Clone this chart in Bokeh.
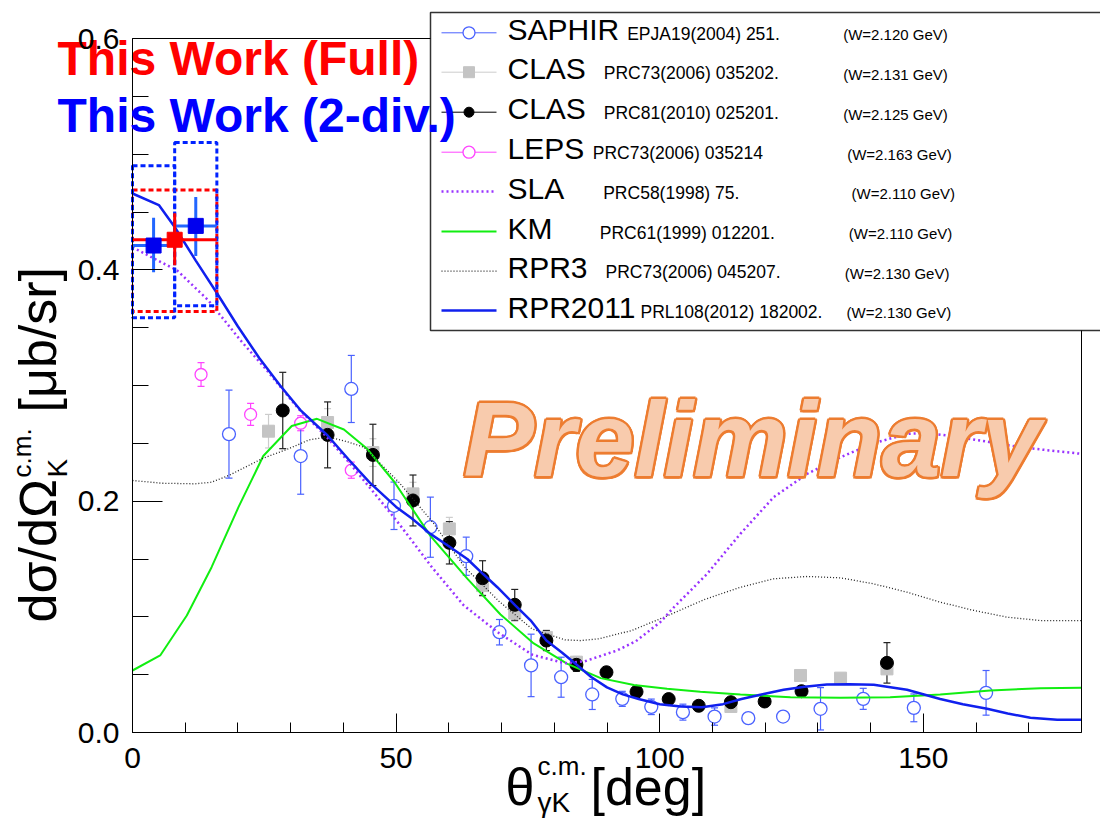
import numpy as np
from bokeh.plotting import figure
from bokeh.models import (ColumnDataSource, Whisker, TeeHead, Label,
                          FixedTicker, PrintfTickFormatter, Range1d, LinearAxis)
from bokeh.embed import file_html
from bokeh.resources import INLINE

# ---------------- data ----------------
saphir_x = [18.3, 31.9, 41.5, 49.6, 56.5, 63.3, 69.6, 75.6, 81.3, 87.2, 92.9, 98.4,
            104.4, 110.4, 116.8, 123.4, 130.5, 138.6, 148.2, 161.9]
saphir_y = [0.258, 0.239, 0.297, 0.196, 0.1775, 0.1524, 0.0867, 0.058, 0.0478, 0.0329,
            0.0291, 0.0222, 0.0176, 0.0138, 0.0124, 0.0138, 0.0205, 0.0291, 0.0213, 0.0343]
saphir_e = [0.038, 0.033, 0.029, 0.0205, 0.026, 0.0165, 0.011, 0.027, 0.0173, 0.013,
            0.0065, 0.0067, 0.0069, 0.0075, 0.004, 0.004, 0.0183, 0.0091, 0.012, 0.0193]

clas06_x = [25.8, 37.0, 45.6, 53.2, 60.1, 66.4, 72.5, 78.5, 84.2, 113.5, 126.7, 134.3, 143.1]
clas06_y = [0.2605, 0.268, 0.242, 0.2063, 0.176, 0.127, 0.1032, 0.0822, 0.0608, 0.0225,
            0.0493, 0.047, 0.055]
clas06_e = [0.0145, 0.012, 0.012, 0.010, 0.010, 0.008, 0.007, 0.006, 0.005, 0.003,
            0.003, 0.003, 0.004]

clas10_x = [28.5, 37.0, 45.6, 53.2, 60.1, 66.4, 72.5, 78.5, 84.2, 89.9, 95.6, 101.7,
            107.4, 113.5, 119.9, 126.9, 143.1]
clas10_y = [0.2784, 0.2573, 0.240, 0.2006, 0.164, 0.1334, 0.1104, 0.0795, 0.0585, 0.0521,
            0.0352, 0.0289, 0.0231, 0.0262, 0.0268, 0.0357, 0.0602]
clas10_e = [0.033, 0.0285, 0.0265, 0.022, 0.0183, 0.0151, 0.0133, 0.0087, 0.0057, 0.004,
            0.003, 0.003, 0.003, 0.003, 0.003, 0.003, 0.0175]

leps_x = [13.0, 22.4, 31.9, 41.5]
leps_y = [0.3095, 0.275, 0.2674, 0.2268]
leps_e = [0.0103, 0.0095, 0.0065, 0.007]

full_x = [8.0]
full_y = [0.426]
full_lo = [0.404]
full_hi = [0.449]
full_xlo = [0.0]
full_xhi = [16.0]
full_sys_lo = [0.364]
full_sys_hi = [0.469]

div_x = [4.0, 12.0]
div_y = [0.421, 0.438]
div_lo = [0.398, 0.412]
div_hi = [0.445, 0.463]
div_xlo = [0.0, 8.0]
div_xhi = [8.0, 16.0]
div_sys_lo = [0.3585, 0.369]
div_sys_hi = [0.490, 0.510]

rpr2011_x = [0, 5, 8, 12, 16, 20, 24, 28, 32, 37, 41, 45, 50, 53, 56.5, 60, 63.5, 66.5,
             69.2, 72.6, 75.5, 78.5, 81.5, 84.2, 87, 90, 93, 96, 100, 104, 108, 112, 115.5,
             119.5, 123.5, 127.5, 131.7, 136, 140.6, 146.9, 153.2, 157.5, 162.1, 166, 170.3,
             175.4, 180]
rpr2011_y = [0.466, 0.456, 0.437, 0.408, 0.380, 0.351, 0.324, 0.300, 0.278, 0.2568, 0.236,
             0.216, 0.195, 0.185, 0.1717, 0.161, 0.150, 0.137, 0.1256, 0.110, 0.097, 0.0795,
             0.069, 0.0588, 0.048, 0.039, 0.033, 0.029, 0.0245, 0.0225, 0.0218, 0.0245, 0.029,
             0.033, 0.0369, 0.0395, 0.0415, 0.0418, 0.0412, 0.0369, 0.029, 0.0245, 0.0205,
             0.0165, 0.0127, 0.011, 0.011]

sla_x = [0, 4, 8.5, 14.4, 20.5, 25.5, 31.5, 36.9, 41.3, 47, 50.8, 56.8, 62.8, 69.5, 75.8,
         82, 85.8, 91.9, 95.5, 100.1, 102.7, 109, 115.3, 121.6, 128, 134.3, 140.6, 146.9,
         150.5, 154.5, 160.8, 168.4, 180]
sla_y = [0.4195, 0.410, 0.3994, 0.3735, 0.339, 0.313, 0.2798, 0.2553, 0.2323, 0.2006, 0.179,
         0.1429, 0.110, 0.086, 0.0673, 0.0599, 0.0616, 0.0709, 0.079, 0.0954, 0.1083, 0.1372,
         0.1718, 0.2034, 0.2237, 0.238, 0.2501, 0.2582, 0.259, 0.2568, 0.2524, 0.2466, 0.2409]

km_x = [0, 5.25, 10.3, 15, 20.1, 24.8, 30.2, 35, 40.1, 44.5, 49.6, 56.5, 63.5, 69.8, 76.1,
        82.4, 88.8, 95.1, 101.4, 107.7, 115.3, 124.8, 134.3, 143.7, 153.2, 162.7, 172.2, 180]
km_y = [0.0536, 0.0666, 0.1011, 0.1429, 0.1948, 0.239, 0.265, 0.2712, 0.262, 0.2453, 0.217,
        0.170, 0.133, 0.102, 0.077, 0.0596, 0.047, 0.041, 0.0378, 0.0352, 0.0329, 0.0305,
        0.030, 0.0305, 0.0329, 0.0363, 0.0383, 0.0386]

rpr3_x = [0, 5.6, 11.9, 15, 18.4, 24.7, 29.6, 33.5, 36.3, 38.5, 40.7, 43.9, 45.8, 50.5, 57,
          63, 69.5, 75.8, 82, 85, 88.5, 94.7, 101, 108.5, 115.3, 121.6, 128, 134.3, 140.6,
          146.9, 153.2, 159.6, 165.9, 172.2, 180]
rpr3_y = [0.2179, 0.2155, 0.215, 0.2164, 0.2225, 0.237, 0.2453, 0.253, 0.255, 0.254, 0.2515,
          0.2466, 0.238, 0.2165, 0.1815, 0.143, 0.1135, 0.0895, 0.0801, 0.0795, 0.081, 0.0882,
          0.100, 0.115, 0.1256, 0.1329, 0.1349, 0.1337, 0.1285, 0.1213, 0.1127, 0.1055,
          0.0997, 0.0968, 0.0968]

X_MIN, X_MAX = 0, 180
Y_MIN, Y_MAX = 0.0, 0.6
x_ticks = [0, 50, 100, 150]
x_minor = list(range(0, 181, 10))
y_ticks = [0.0, 0.2, 0.4, 0.6]
y_minor = [round(0.05 * i, 2) for i in range(13)]

leg_names = ["SAPHIR", "CLAS", "CLAS", "LEPS", "SLA", "KM", "RPR3", "RPR2011"]
leg_refs = ["EPJA19(2004) 251.", "PRC73(2006) 035202.", "PRC81(2010) 025201.",
            "PRC73(2006) 035214", "PRC58(1998) 75.", "PRC61(1999) 012201.",
            "PRC73(2006) 045207.", "PRL108(2012) 182002."]
leg_w = ["(W=2.120 GeV)", "(W=2.131 GeV)", "(W=2.125 GeV)", "(W=2.163 GeV)",
         "(W=2.110 GeV)", "(W=2.110 GeV)", "(W=2.130 GeV)", "(W=2.130 GeV)"]

# ---------------- layout / styling ----------------
FONT = "Liberation Sans"
C_SAPHIR = "#4a62ff"
C_CLAS06 = "#c4c4c4"
C_CLAS10 = "#000000"
C_LEPS = "#ff44ff"
C_SLA = "#9933ff"
C_KM = "#11ee11"
C_RPR3 = "#222222"
C_RPR11 = "#1020ee"

CW, CH = 1100, 822                   # canvas
FL, FR, FT, FB = 132, 1081, 38, 732  # axis box in canvas pixels
XPP = (X_MAX - X_MIN) / (FR - FL)    # data per pixel
YPP = (Y_MAX - Y_MIN) / (FB - FT)
BASE_K = 0.37                        # baseline correction (fraction of font size)

# legend box (canvas pixels)
LEG_L, LEG_T, LEG_B, LEG_R = 430, 12, 330, 1140
LEG_ROWS = [32.3, 71.7, 111.7, 151.7, 191.0, 231.0, 270.7, 310.0]
LEG_LINE = (441, 496)
LEG_TEXT_X = 507

# the plotting frame covers the whole canvas so that texts and the legend
# can sit outside the axis box; the axes are pinned to the box.
p = figure(width=CW, height=CH,
           x_range=Range1d(X_MIN - FL * XPP, X_MIN + (CW - FL) * XPP),
           y_range=Range1d(Y_MIN - (CH - FB) * YPP, Y_MIN + FB * YPP),
           output_backend="svg", toolbar_location=None, title=None,
           min_border=0, min_border_left=0, min_border_right=0,
           min_border_top=0, min_border_bottom=0)
p.grid.visible = False
p.outline_line_color = None
p.background_fill_color = "white"
p.border_fill_color = "white"


def dx(px):
    return X_MIN + (px - FL) * XPP


def dy(py):
    return Y_MIN + (FB - py) * YPP


def text(t, px, py, fs, color="black", style="normal", angle=0.0, ox=0, oy=0, outline=None,
         level="overlay"):
    """px, py: start of the text on its baseline, in canvas pixels."""
    if angle == 0.0:
        ax_, ay_ = px, py - BASE_K * fs
    else:  # rotated 90 deg counter-clockwise
        ax_, ay_ = px - BASE_K * fs, py
    kw = dict(x=dx(ax_), y=dy(ay_), text=t, text_font=FONT, text_font_size=f"{fs}px",
              text_font_style=style, text_color=color, text_baseline="alphabetic",
              text_align="left", angle=angle, x_offset=ox, y_offset=oy, level=level)
    if outline is not None:
        kw["text_outline_color"] = outline
    p.add_layout(Label(**kw))


xa = p.xaxis[0]
ya = p.yaxis[0]
xa.fixed_location = Y_MIN
ya.fixed_location = X_MIN
xa.bounds = (X_MIN, X_MAX)
ya.bounds = (Y_MIN, Y_MAX)
xa.ticker = FixedTicker(ticks=x_ticks, minor_ticks=x_minor)
ya.ticker = FixedTicker(ticks=y_ticks, minor_ticks=y_minor)
ya.formatter = PrintfTickFormatter(format="%.1f")
for ax in (xa, ya):
    ax.axis_line_color = "black"
    ax.axis_line_width = 1
    ax.major_tick_line_color = "black"
    ax.minor_tick_line_color = "black"
    ax.major_tick_out = 0
    ax.minor_tick_out = 0
    ax.major_label_text_font = FONT
    ax.major_label_text_font_size = "30px"
    ax.major_label_text_color = "black"
xa.major_tick_in = 19
xa.minor_tick_in = 10
ya.major_tick_in = 30
ya.minor_tick_in = 16
xa.major_label_standoff = 15
ya.major_label_standoff = 13

# top and right sides of the axis box (the legend box hides the rest)
top_ax = LinearAxis(fixed_location=Y_MAX, bounds=(X_MIN, dx(LEG_L)),
                    ticker=FixedTicker(ticks=[], minor_ticks=[]),
                    axis_line_color="black", axis_line_width=1)
right_ax = LinearAxis(fixed_location=X_MAX, bounds=(Y_MIN, dy(LEG_B)),
                      ticker=FixedTicker(ticks=[], minor_ticks=[]),
                      axis_line_color="black", axis_line_width=1)
p.add_layout(top_ax, "above")
p.add_layout(right_ax, "right")


def whisk(x, lo, hi, color, width=1.2, size=7):
    src = ColumnDataSource(dict(x=x, lo=lo, hi=hi))
    w = Whisker(source=src, base="x", lower="lo", upper="hi", line_color=color,
                line_width=width,
                upper_head=TeeHead(size=size, line_color=color, line_width=width),
                lower_head=TeeHead(size=size, line_color=color, line_width=width))
    p.add_layout(w)


def lohi(y, e):
    return [a - b for a, b in zip(y, e)], [a + b for a, b in zip(y, e)]


# error bars (underlay)
lo, hi = lohi(clas06_y, clas06_e)
whisk(clas06_x, lo, hi, "#cccccc")
lo, hi = lohi(leps_y, leps_e)
whisk(leps_x, lo, hi, C_LEPS)
lo, hi = lohi(saphir_y, saphir_e)
whisk(saphir_x, lo, hi, C_SAPHIR)
lo, hi = lohi(clas10_y, clas10_e)
whisk(clas10_x, lo, hi, "#222222")

# markers
MK = {
    "saphir": dict(marker="circle", size=13, fill_color="white", line_color=C_SAPHIR,
                   line_width=1.3),
    "clas06": dict(marker="square", size=12, fill_color=C_CLAS06, line_color=C_CLAS06),
    "clas10": dict(marker="circle", size=13, fill_color=C_CLAS10, line_color=C_CLAS10),
    "leps": dict(marker="circle", size=12, fill_color="white", line_color=C_LEPS,
                 line_width=1.3),
}
p.scatter(clas06_x, clas06_y, **MK["clas06"])
p.scatter(leps_x, leps_y, **MK["leps"])
p.scatter(saphir_x, saphir_y, **MK["saphir"])
p.scatter(clas10_x, clas10_y, **MK["clas10"])

# curves
LS = {
    "km": dict(line_color=C_KM, line_width=2),
    "rpr3": dict(line_color=C_RPR3, line_width=1.3, line_dash="1 2"),
    "sla": dict(line_color=C_SLA, line_width=2.5, line_dash="2 3"),
    "rpr11": dict(line_color=C_RPR11, line_width=2.5),
}
p.line(km_x, km_y, **LS["km"])
p.line(rpr3_x, rpr3_y, **LS["rpr3"])
p.line(sla_x, sla_y, **LS["sla"])
p.line(rpr2011_x, rpr2011_y, **LS["rpr11"])

# This work: systematic boxes
p.quad(left=full_xlo, right=full_xhi, bottom=full_sys_lo, top=full_sys_hi,
       fill_alpha=0, line_color="#ff0000", line_width=3, line_dash="5 3")
p.quad(left=div_xlo, right=div_xhi, bottom=div_sys_lo, top=div_sys_hi,
       fill_alpha=0, line_color="#0022ff", line_width=3, line_dash="5 3")

# This work: error bars and points
p.segment(x0=div_xlo, y0=div_y, x1=div_xhi, y1=div_y, line_color="#2266ff", line_width=3)
p.segment(x0=div_x, y0=div_lo, x1=div_x, y1=div_hi, line_color="#2266ff", line_width=3)
p.segment(x0=full_xlo, y0=full_y, x1=full_xhi, y1=full_y, line_color="#ff0000", line_width=3)
p.segment(x0=full_x, y0=full_lo, x1=full_x, y1=full_hi, line_color="#ff0000", line_width=3)
p.scatter(div_x, div_y, marker="square", size=15, fill_color="#0000ee", line_color="#0000ee")
p.scatter(full_x, full_y, marker="square", size=15, fill_color="#ff0000", line_color="#ff0000")

# ---------------- legend (drawn by hand) ----------------
p.quad(left=[dx(LEG_L)], right=[dx(LEG_R)], top=[dy(LEG_T)], bottom=[dy(LEG_B)],
       fill_color="white", line_color="#333333", line_width=1.5)
leg_lines = [dict(line_color=C_SAPHIR, line_width=1), dict(line_color="#cccccc", line_width=1),
             dict(line_color="#000000", line_width=1), dict(line_color=C_LEPS, line_width=1),
             LS["sla"], LS["km"], LS["rpr3"], LS["rpr11"]]
leg_marks = [dict(MK["saphir"], size=12), dict(MK["clas06"], size=11),
             dict(MK["clas10"], size=10), dict(MK["leps"], size=12), None, None, None, None]
for row, ls, mk in zip(LEG_ROWS, leg_lines, leg_marks):
    p.line([dx(LEG_LINE[0]), dx(LEG_LINE[1])], [dy(row), dy(row)], **ls)
    if mk is not None:
        p.scatter([dx(sum(LEG_LINE) / 2)], [dy(row)], **mk)

ref_px = [626.7, 603.3, 603.3, 592.3, 602.7, 599.3, 605, 640]
w_px = [842.7, 842.7, 842.7, 846.7, 851, 848.3, 844.3, 846]
base_py = [r + 7.7 for r in LEG_ROWS]
for t, yp in zip(leg_names, base_py):
    text(t, LEG_TEXT_X, yp, 30)
for t, xp, yp in zip(leg_refs, ref_px, base_py):
    text(t, xp, yp, 17.5)
for t, xp, yp in zip(leg_w, w_px, base_py):
    text(t, xp, yp, 15)

# This Work labels
text("This Work (Full)", 57, 76, 48, color="#ff0000", style="bold", level="underlay")
text("This Work (2-div.)", 57, 133, 48, color="#0000ff", style="bold")

# Preliminary: thick orange rim (shifted copies) under the peach text
for ox, oy in [(2, 0), (-2, 0), (0, 2), (0, -2), (1.5, 1.5), (-1.5, 1.5), (1.5, -1.5),
               (-1.5, -1.5)]:
    text("Preliminary", 463, 478, 106, color="#ED7D31", style="bold italic", ox=ox, oy=oy,
         outline="#ED7D31")
text("Preliminary", 463, 478, 106, color="#F8CBAD", style="bold italic")

# x axis title
text("θ", 505, 806, 52)
text("c.m.", 537, 775, 26)
text("γK", 537, 812, 28)
text("[deg]", 590, 806, 52)

# y axis title (rotated)
A = np.pi / 2
text("dσ/dΩ", 57, 622, 52, angle=A)
text("K", 67, 477, 28, angle=A)
text("c.m.", 31, 477, 26, angle=A)
text("[μb/sr]", 57, 412, 52, angle=A)

open("out.html", "w").write(file_html(p, INLINE))
